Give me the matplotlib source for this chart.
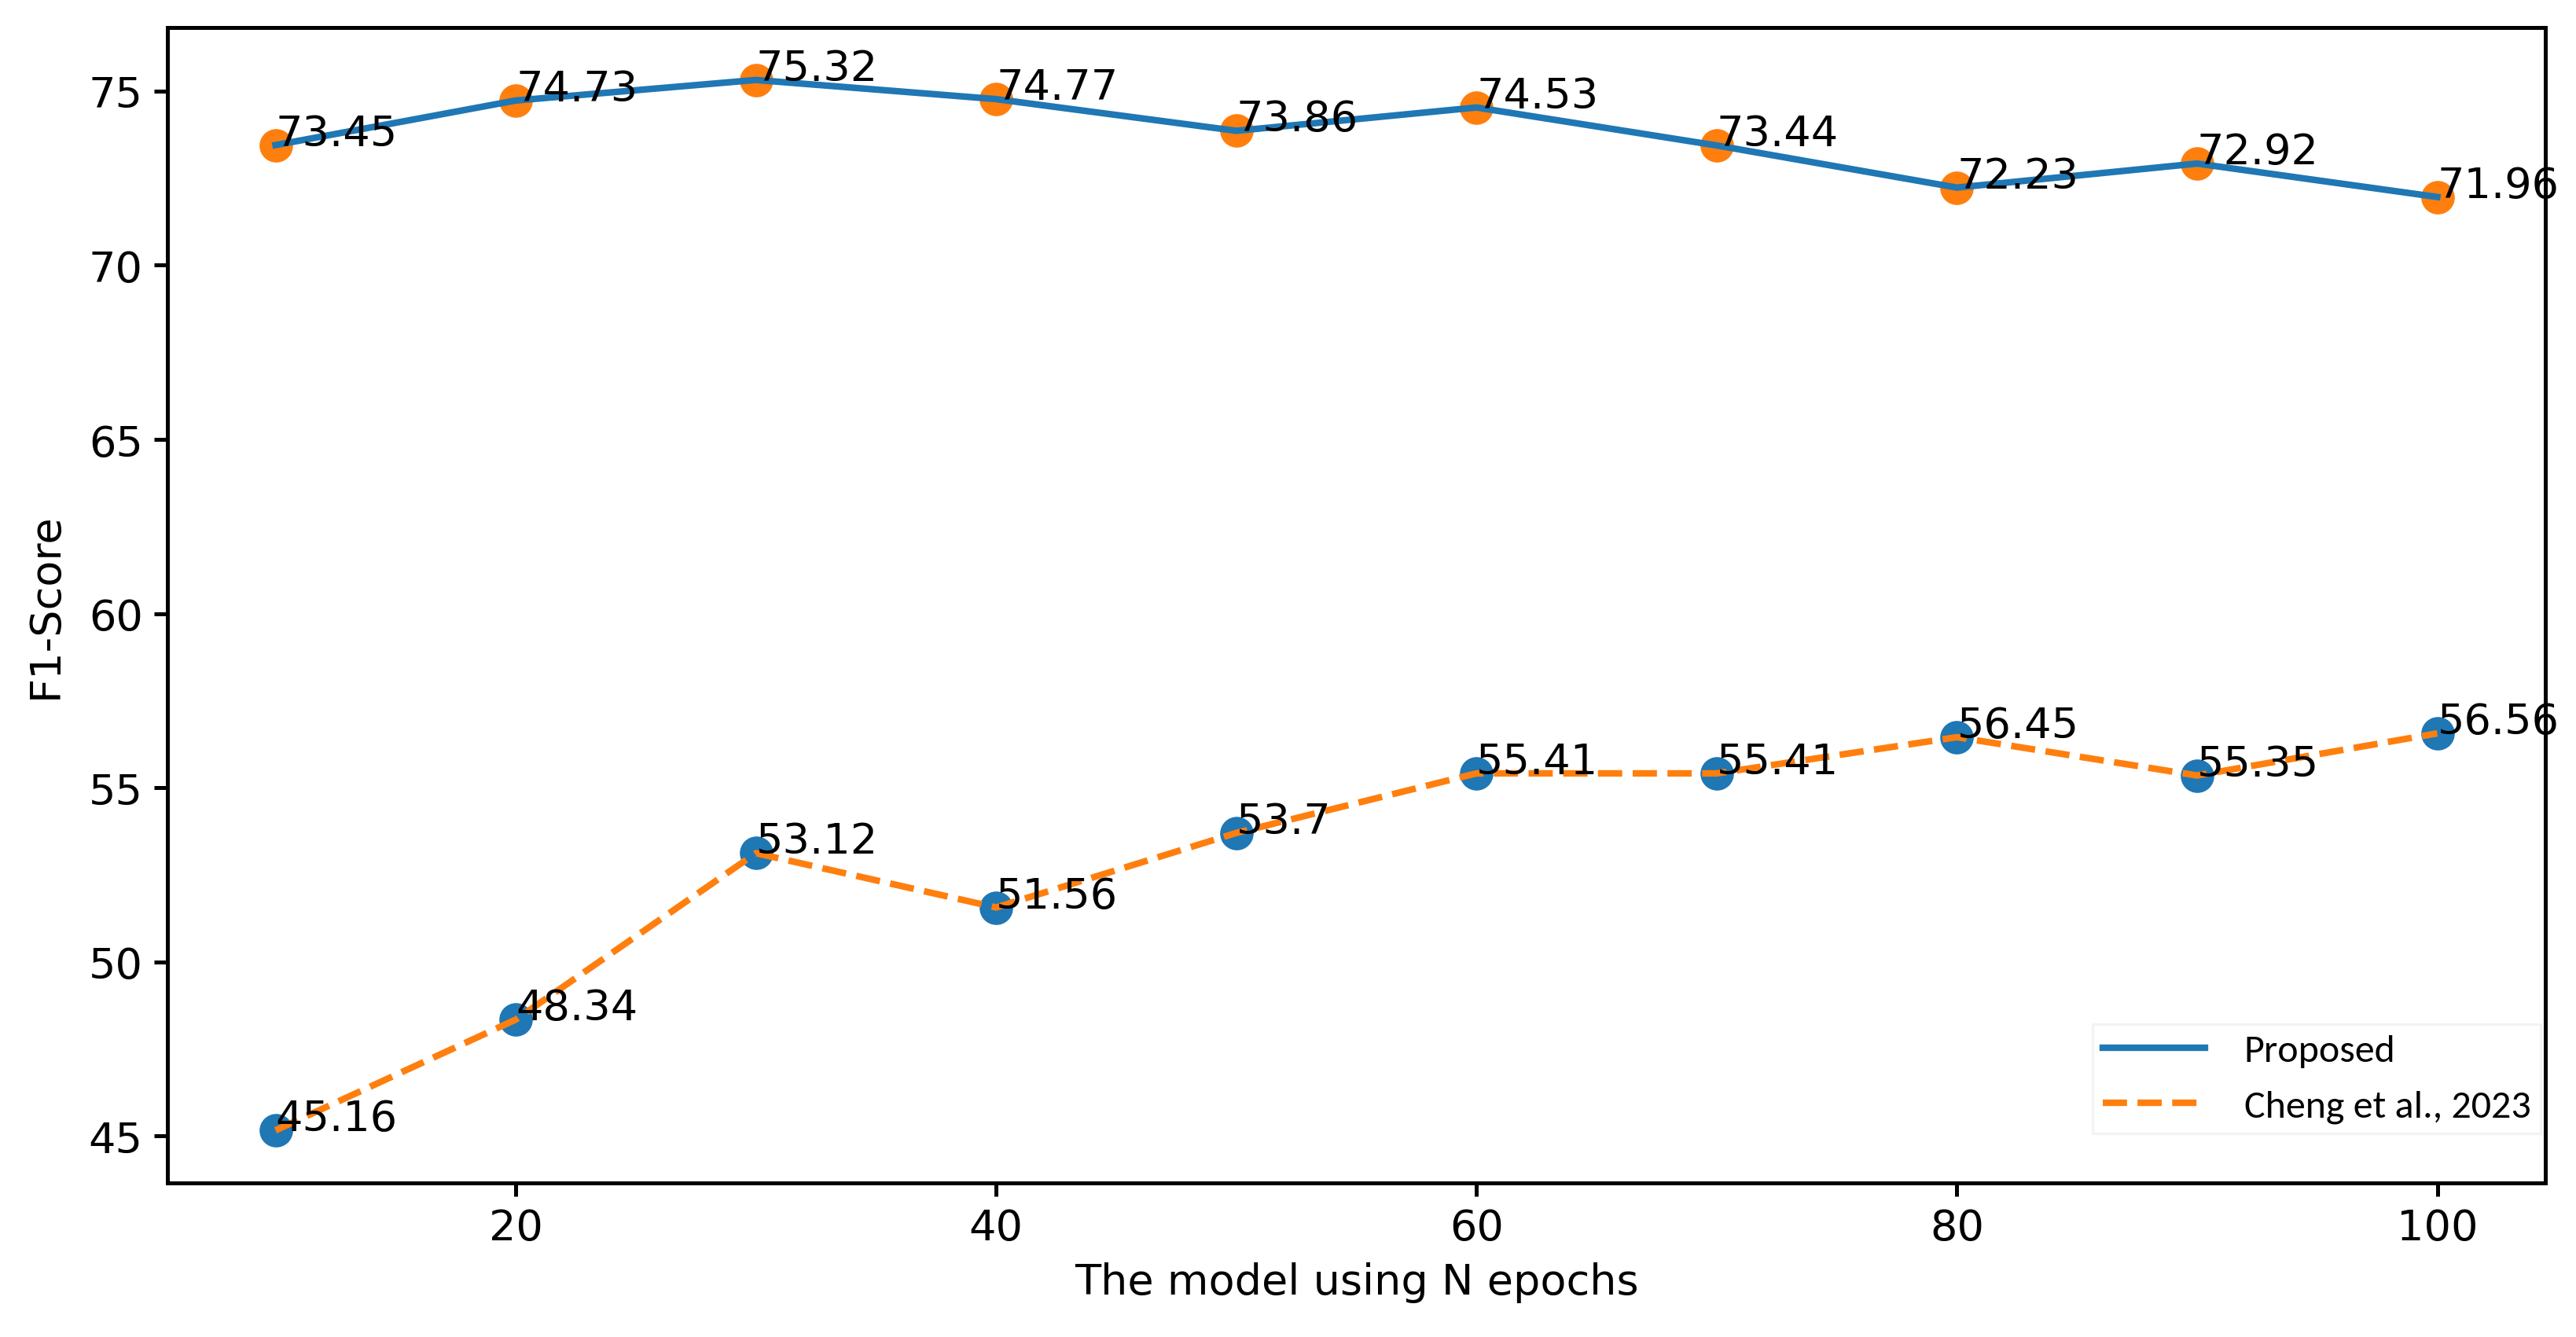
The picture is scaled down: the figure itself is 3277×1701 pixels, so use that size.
import matplotlib
matplotlib.use("Agg")
from matplotlib import pyplot as plt

epochs = [10, 20, 30, 40, 50, 60, 70, 80, 90, 100]
proposed = [73.45, 74.73, 75.32, 74.77, 73.86, 74.53, 73.44, 72.23, 72.92, 71.96]
cheng = [45.16, 48.34, 53.12, 51.56, 53.7, 55.41, 55.41, 56.45, 55.35, 56.56]

fig = plt.figure(figsize=(3277 / 300, 1702 / 300), dpi=300)
ax = fig.add_axes([0.065, 0.1152, 0.9231, 0.8637])

# точки под линиями (zorder scatter < plot)
ax.scatter(epochs, proposed, color="C1", s=85)
ax.scatter(epochs, cheng, color="C0", s=85)
ax.plot(epochs, proposed, color="C0", linewidth=2, label="Proposed")
ax.plot(epochs, cheng, color="C1", linestyle="--", linewidth=2, label="Cheng et al., 2023")

for x, y in zip(epochs, proposed):
    ax.text(x, y, str(y), fontsize=13)
for x, y in zip(epochs, cheng):
    ax.text(x, y, str(y), fontsize=13)

ax.set_xlabel("The model using N epochs", fontsize=13)
ax.set_ylabel("F1-Score", fontsize=13, labelpad=7)
ax.tick_params(labelsize=13, width=1.2, length=4)
for sp in ax.spines.values():
    sp.set_linewidth(1.2)

leg = ax.legend(loc="lower right", bbox_to_anchor=(0.998, 0.043), borderaxespad=0,
                prop={"family": "Carlito", "size": 12},
                frameon=True, fancybox=False, borderpad=0.25, labelspacing=0.55,
                handlelength=2.6, handletextpad=1.0)
leg.get_frame().set_edgecolor("#f0f0f0")
leg.get_frame().set_linewidth(0.8)

fig.savefig("out.png", dpi=300)
